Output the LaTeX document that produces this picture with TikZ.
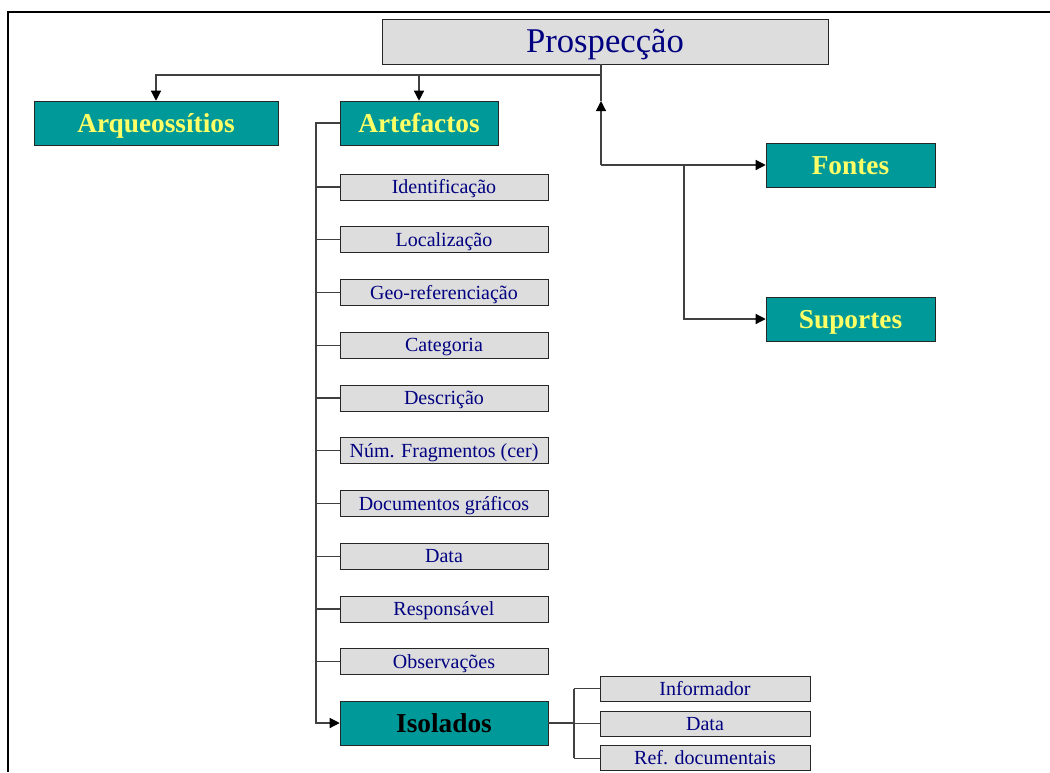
\documentclass[tikz,border=0pt]{standalone}
\usepackage{fontspec}
\setmainfont{Liberation Serif}
\usetikzlibrary{positioning, arrows.meta}
\definecolor{tealbox}{RGB}{0,153,153}
\definecolor{yellowtext}{RGB}{255,255,102}
\definecolor{greybox}{RGB}{221,221,221}
\definecolor{navytext}{RGB}{0,0,128}

\begin{document}
\begin{tikzpicture}[x=0.75pt, y=-0.75pt, node distance=39.56pt,
    main/.style={draw=black!85, fill=tealbox, text=yellowtext, font=\fontsize{20.5}{24}\selectfont\bfseries, minimum height=33pt, inner sep=0pt, text height=13.5pt, text depth=0pt},
    item/.style={draw=black!85, fill=greybox, text=navytext, font=\fontsize{15}{18}\selectfont, minimum width=156pt, minimum height=19.5pt, inner sep=0pt, text height=9.9pt, text depth=0pt},
    link/.style={draw=black!75, line width=0.9pt},
    arr/.style={link, -{Triangle[length=7.5pt,width=7.5pt,color=black]}}]

    \useasboundingbox (0,0) rectangle (1050,772);
    % frame
    \draw[line width=1pt] (8,772) -- (8,12) -- (1050,12);

    % Define the boxes (nodes)
    \node[item, minimum width=334.5pt, minimum height=33.75pt, font=\fontsize{26}{30}\selectfont, text height=17.2pt] (top) at (605,41.5) {Prospecção};
    \node[main, minimum width=183pt] (arq) at (156,123) {Arqueossítios};
    \node[main, minimum width=118.5pt] (art) at (419,123) {Artefactos};
    \node[main, minimum width=126.75pt] (fon) at (850.5,165) {Fontes};
    \node[main, minimum width=126.75pt] (sup) at (850.5,319) {Suportes};
    \node[main, minimum width=156pt, text=black] (iso) at (444,723) {Isolados};

    % attributes of Artefactos
    \node[item] (i1) at (444,187) {Identificação};
    \node[item, below of=i1] (i2) {Localização};
    \node[item, below of=i2] (i3) {Geo-referenciação};
    \node[item, below of=i3] (i4) {Categoria};
    \node[item, below of=i4] (i5) {Descrição};
    \node[item, below of=i5] (i6) {Núm. Fragmentos (cer)};
    \node[item, below of=i6] (i7) {Documentos gráficos};
    \node[item, below of=i7] (i8) {Data};
    \node[item, below of=i8] (i9) {Responsável};
    \node[item, below of=i9] (i10) {Observações};

    % attributes of Isolados
    \node[item, minimum width=157.5pt, minimum height=18.75pt] (r2) at (705,723.5) {Data};
    \node[item, minimum width=157.5pt, minimum height=18.75pt, above of=r2, node distance=26.25pt] (r1) {Informador};
    \node[item, minimum width=157.5pt, minimum height=18.75pt, below of=r2, node distance=26pt] (r3) {Ref. documentais};

    % Define the connectors
    \coordinate (split) at (601,75);
    \coordinate (uptip) at (601,101);
    \coordinate (src) at (601,165);
    \coordinate (fork) at (684,165);
    \coordinate (spine) at (316,123);
    \coordinate (rspine) at (574,723);

    \draw[link] (top.south -| split) -- (split);
    \draw[arr] (split) -| (arq);
    \draw[arr] (split) -| (art);
    \draw[link] (uptip) -- (split);
    \draw[arr] (src) -- (uptip);
    \draw[arr] (src) -- (fon.west);
    \draw[arr] (fork) |- (sup.west);

    \draw[arr] (art.west) -- (spine) |- (iso.west);
    \foreach \n in {i1,i2,i3,i4,i5,i6,i7,i8,i9,i10}
        \draw[link] (\n.west) -- (\n.west -| spine);

    \draw[link] (iso.east) -- (rspine);
    \draw[link] (r1.west -| rspine) -- (r3.west -| rspine);
    \foreach \n in {r1,r2,r3}
        \draw[link] (\n.west) -- (\n.west -| rspine);

\end{tikzpicture}
\end{document}
